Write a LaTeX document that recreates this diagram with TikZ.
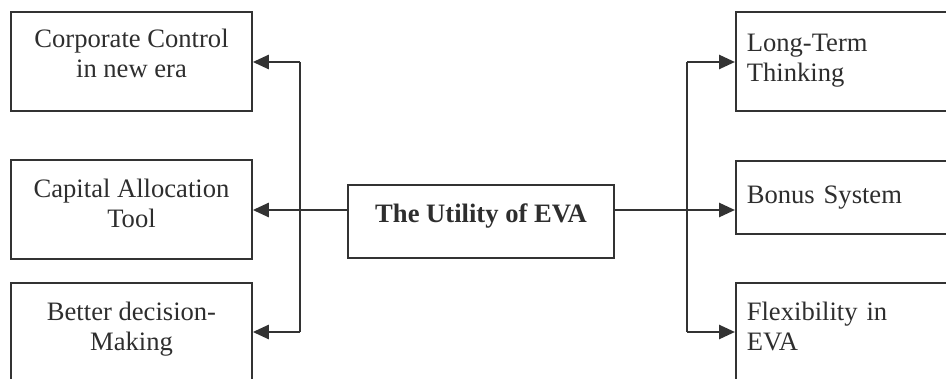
\documentclass[tikz,border=0pt]{standalone}
\usepackage{fontspec}
\setmainfont{Liberation Serif}
\usetikzlibrary{arrows.meta}
\definecolor{ink}{HTML}{333333}
\definecolor{txt}{HTML}{2E2E2E}
\tikzset{
  box/.style={draw=ink, line width=0.8pt, rectangle, inner sep=0pt, text=txt,
    font=\fontsize{13.3pt}{15pt}\selectfont},
  lbox/.style={box, minimum width=120.5pt, align=center},
  rbox/.style={box, minimum width=120pt, text width=109pt, inner xsep=5.5pt, align=left, anchor=west},
  link/.style={draw=ink, line width=0.8pt},
  arr/.style={draw=ink, line width=1.3pt, -{Triangle[length=8pt,width=7pt,fill=ink]}}
}
\begin{document}
\begin{tikzpicture}[x=0.5pt,y=-0.5pt]
\useasboundingbox (0,0) rectangle (946,379);
\clip (0,0) rectangle (946,379);
% left boxes
\node[lbox, minimum height=49.5pt, text depth=8pt] (L1) at (131.5,61.5) {Corporate Control\\in new era};
\node[lbox, minimum height=49.5pt, text depth=6pt] (L2) at (131.5,209.5) {Capital Allocation\\Tool};
\node[lbox, minimum height=49pt, text depth=6pt] (L3) at (131.5,332) {Better decision-\\Making};
% centre
\node[box, minimum width=133pt, minimum height=36.5pt, text depth=8pt, font=\fontsize{13.3pt}{15pt}\selectfont\bfseries] (C) at (481,221.5) {The Utility of EVA};
% right boxes
\node[rbox, minimum height=49.5pt, text depth=19pt] (R1) at (735,61.5) {Long-Term\\Thinking};
\node[rbox, minimum height=36.5pt] (R2) at (735,197.5) {Bonus System};
\node[rbox, minimum height=49pt, text depth=21pt] (R3) at (735,332) {Flexibility in\\EVA};
% junctions
\coordinate (lj) at (300,210);
\coordinate (rj) at (687,210);
\coordinate (lt) at (300,62);
\coordinate (lb) at (300,332);
\coordinate (rt) at (687,62);
\coordinate (rb) at (687,332);
% left connectors
\draw[link] (C.west |- lj) -- (lj);
\draw[link] (lt) -- (lb);
\draw[arr] (lt) -- (L1.east |- lt);
\draw[arr] (lj) -- (L2.east |- lj);
\draw[arr] (lb) -- (L3.east |- lb);
% right connectors
\draw[link] (C.east |- rj) -- (rj);
\draw[link] (rt) -- (rb);
\draw[arr] (rt) -- (R1.west |- rt);
\draw[arr] (rj) -- (R2.west |- rj);
\draw[arr] (rb) -- (R3.west |- rb);
\end{tikzpicture}
\end{document}
